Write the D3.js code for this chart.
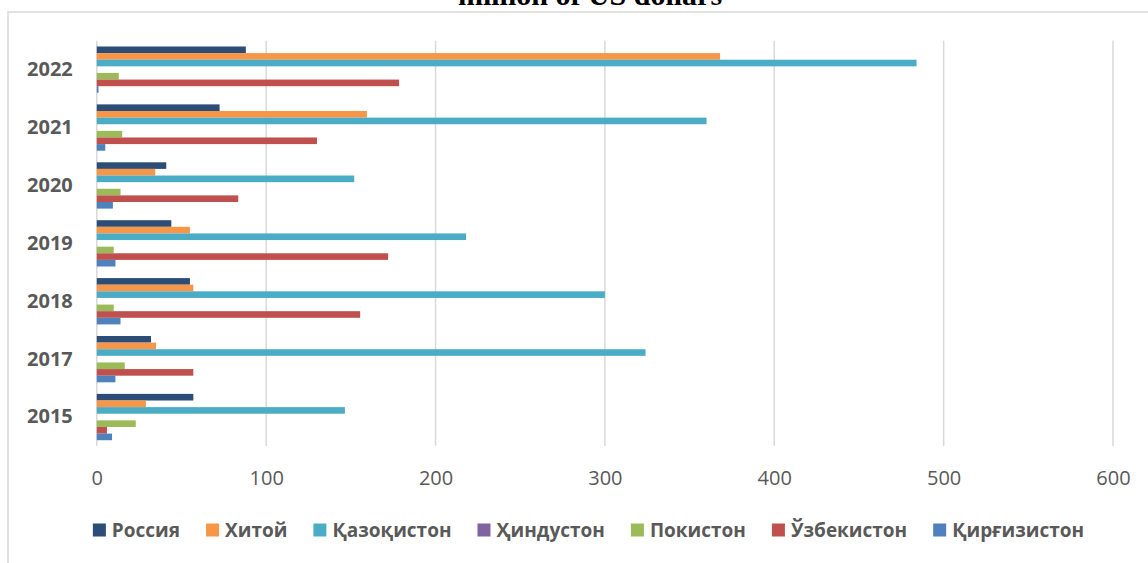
<!DOCTYPE html>
<html>
<head>
<meta charset="utf-8">
<script src="https://cdn.jsdelivr.net/npm/d3@7"></script>
<style>
  body { margin: 0; background: #fff; }
  text { font-family: "Open Sans", sans-serif; }
</style>
</head>
<body>
<div id="chart"></div>
<script>
// categories, top to bottom
const years = ["2022", "2021", "2020", "2019", "2018", "2017", "2015"];

// series (million of US dollars)
const russia     = [88, 72.5, 41, 44, 55, 32, 57];
const china      = [368, 159.5, 34.5, 55, 57, 35, 29];
const kazakhstan = [484, 360, 152, 218, 300, 324, 146.5];
const india      = [0, 0, 0, 0, 0, 0, 0];
const pakistan   = [13, 15, 14, 10, 10, 16.5, 23];
const uzbekistan = [178.5, 130, 83.5, 172, 155.5, 57, 6];
const kyrgyzstan = [1, 5, 9.5, 11, 14, 11, 9];

const seriesNames = ["Россия", "Хитой", "Қазоқистон", "Ҳиндустон", "Покистон", "Ўзбекистон", "Қирғизистон"];
const seriesValues = [russia, china, kazakhstan, india, pakistan, uzbekistan, kyrgyzstan];
const colors = ["#2C4D75", "#F79646", "#4BACC6", "#8064A2", "#9BBB59", "#C0504D", "#4F81BD"];

const xTicks = [0, 100, 200, 300, 400, 500, 600];
const title = "million of US dollars";

// build rows for drawing
const rows = years.map((yr, i) => ({
    year: yr,
    values: seriesNames.map((s, j) => ({ key: s, value: seriesValues[j][i], color: colors[j] }))
}));

const W = 1148, H = 563;
const margin = {top: 40.7, right: 35, bottom: 117, left: 96.8};
const width = W - margin.left - margin.right,
      height = H - margin.top - margin.bottom;

const svg = d3.select("#chart")
    .append("svg")
    .attr("width", W)
    .attr("height", H);

// chart border (top & left visible)
svg.append("path")
    .attr("d", "M8,563 L8,12 L1148,12")
    .attr("fill", "none")
    .attr("stroke", "#d9d9d9")
    .attr("stroke-width", 1.5);

// title, cut off at the top like in the source
svg.append("text")
    .attr("x", 590)
    .attr("y", 5)
    .attr("text-anchor", "middle")
    .style("font-family", "'Liberation Serif', 'Times New Roman', serif")
    .style("font-weight", "bold")
    .style("font-size", "30px")
    .attr("fill", "#000")
    .text(title);

const g = svg.append("g")
    .attr("transform", `translate(${margin.left},${margin.top})`);

const x = d3.scaleLinear()
    .domain([0, 600])
    .range([0, width]);

const y0 = d3.scaleBand()
    .domain(years)
    .range([0, height])
    .paddingInner(0.2)
    .paddingOuter(0.1);

const y1 = d3.scaleBand()
    .domain(seriesNames)
    .range([0, y0.bandwidth()]);

// gridlines
g.append("g")
    .selectAll("line")
    .data(xTicks)
    .enter()
    .append("line")
    .attr("x1", d => x(d))
    .attr("x2", d => x(d))
    .attr("y1", 0)
    .attr("y2", height)
    .attr("stroke", "#d9d9d9")
    .attr("stroke-width", 1.5);

// bars
g.append("g")
    .selectAll("g")
    .data(rows)
    .enter()
    .append("g")
    .attr("transform", d => `translate(0,${y0(d.year)})`)
    .selectAll("rect")
    .data(d => d.values)
    .enter()
    .append("rect")
    .attr("x", x(0))
    .attr("y", d => y1(d.key))
    .attr("width", d => x(d.value) - x(0))
    .attr("height", y1.bandwidth())
    .attr("fill", d => d.color);

// x axis labels
const xAxis = g.append("g")
    .attr("transform", `translate(0,${height + 32})`)
    .call(d3.axisBottom(x).tickValues(xTicks).tickSize(0).tickPadding(0));
xAxis.select(".domain").remove();
xAxis.selectAll("text")
    .attr("dy", "0.35em")
    .style("font-family", "'Open Sans', sans-serif")
    .style("font-size", "20px")
    .attr("fill", "#595959");

// y axis labels
const yAxis = g.append("g")
    .call(d3.axisLeft(y0).tickSize(0).tickPadding(24));
yAxis.select(".domain").remove();
yAxis.selectAll("text")
    .style("font-family", "'Open Sans', sans-serif")
    .style("font-weight", "bold")
    .style("font-size", "20px")
    .attr("fill", "#595959");

// legend
const legend = svg.append("g")
    .attr("transform", "translate(0,530)");
const items = legend.selectAll("g")
    .data(seriesNames)
    .enter()
    .append("g");
items.append("rect")
    .attr("x", 0)
    .attr("y", -6.5)
    .attr("width", 13)
    .attr("height", 13)
    .attr("fill", (d, i) => colors[i]);
items.append("text")
    .attr("x", 19)
    .attr("dy", "0.35em")
    .style("font-weight", "bold")
    .style("font-size", "19px")
    .attr("fill", "#595959")
    .text(d => d);

let offs = [], cur = 0;
items.each(function() {
    offs.push(cur);
    const w = 19 + d3.select(this).select("text").node().getComputedTextLength();
    cur += w + 26;
});
const total = cur - 26;
const start = 588.5 - total / 2;
items.attr("transform", (d, i) => `translate(${start + offs[i]},0)`);
</script>
</body>
</html>
